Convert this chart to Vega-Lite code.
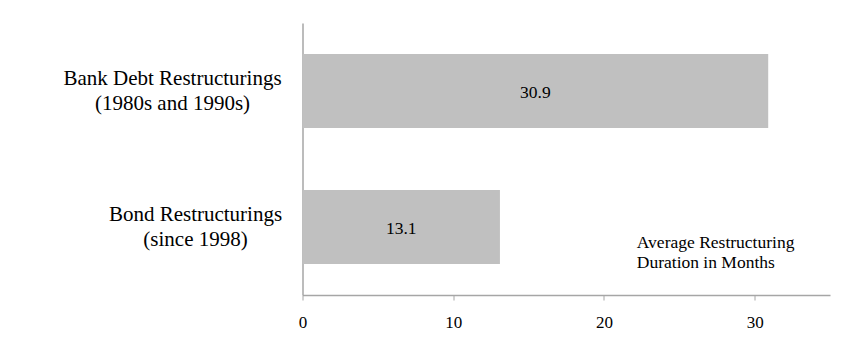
{
  "$schema": "https://vega.github.io/schema/vega-lite/v6.json",
  "width": 527.5,
  "height": 272,
  "autosize": {"type": "none"},
  "padding": {"left": 302.5, "top": 23, "right": 20, "bottom": 66},
  "background": "white",
  "config": {
    "view": {"stroke": null},
    "font": "Liberation Serif",
    "text": {"font": "Liberation Serif"},
    "axis": {"labelFont": "Liberation Serif", "labelColor": "#000000", "domainColor": "#a6a6a6", "tickColor": "#a6a6a6", "grid": false, "title": null}
  },
  "datasets": {
    "bars": [
      {"category": "Bank Debt Restructurings|(1980s and 1990s)", "months": 30.9},
      {"category": "Bond Restructurings|(since 1998)", "months": 13.1}
    ],
    "note": [
      {"category": "Bond Restructurings|(since 1998)", "x": 22.18, "text": "Average Restructuring|Duration in Months"}
    ]
  },
  "layer": [
    {
      "data": {"name": "bars"},
      "mark": {"type": "bar", "color": "#c0c0c0"},
      "encoding": {
        "y": {
          "field": "category", "type": "nominal", "sort": null,
          "scale": {"paddingInner": 0.456, "paddingOuter": 0.228},
          "axis": {
            "ticks": false, "tickSize": 0, "domainWidth": 1.5,
            "labelExpr": "split(datum.label, '|')",
            "labelAlign": "center",
            "labelBaseline": "middle",
            "labelOffset": -12,
            "labelFontSize": 21,
            "labelLineHeight": 25,
            "labelLimit": 400,
            "labelPadding": {"condition": {"test": "indexof(datum.value, 'Bank') >= 0", "value": 130.5}, "value": 107.5}
          }
        },
        "x": {
          "field": "months", "type": "quantitative",
          "scale": {"domain": [0, 35], "nice": false},
          "axis": {"values": [0, 10, 20, 30], "tickSize": 5, "domainWidth": 1.5, "labelFontSize": 17, "labelPadding": 14, "labelFlush": false}
        }
      }
    },
    {
      "data": {"name": "bars"},
      "transform": [{"calculate": "datum.months / 2", "as": "mid"}],
      "mark": {"type": "text", "fontSize": 17.5, "font": "Liberation Serif", "color": "#000000", "align": "center", "baseline": "middle", "dy": 2},
      "encoding": {
        "y": {"field": "category", "type": "nominal", "sort": null},
        "x": {"field": "mid", "type": "quantitative"},
        "text": {"field": "months", "type": "quantitative", "format": ".1f"}
      }
    },
    {
      "data": {"name": "note"},
      "transform": [{"calculate": "split(datum.text, '|')", "as": "lines"}],
      "mark": {"type": "text", "fontSize": 17.5, "font": "Liberation Serif", "color": "#000000", "align": "left", "baseline": "alphabetic", "dy": 21.3, "lineHeight": 20},
      "encoding": {
        "y": {"field": "category", "type": "nominal", "sort": null},
        "x": {"field": "x", "type": "quantitative"},
        "text": {"field": "lines"}
      }
    }
  ]
}
